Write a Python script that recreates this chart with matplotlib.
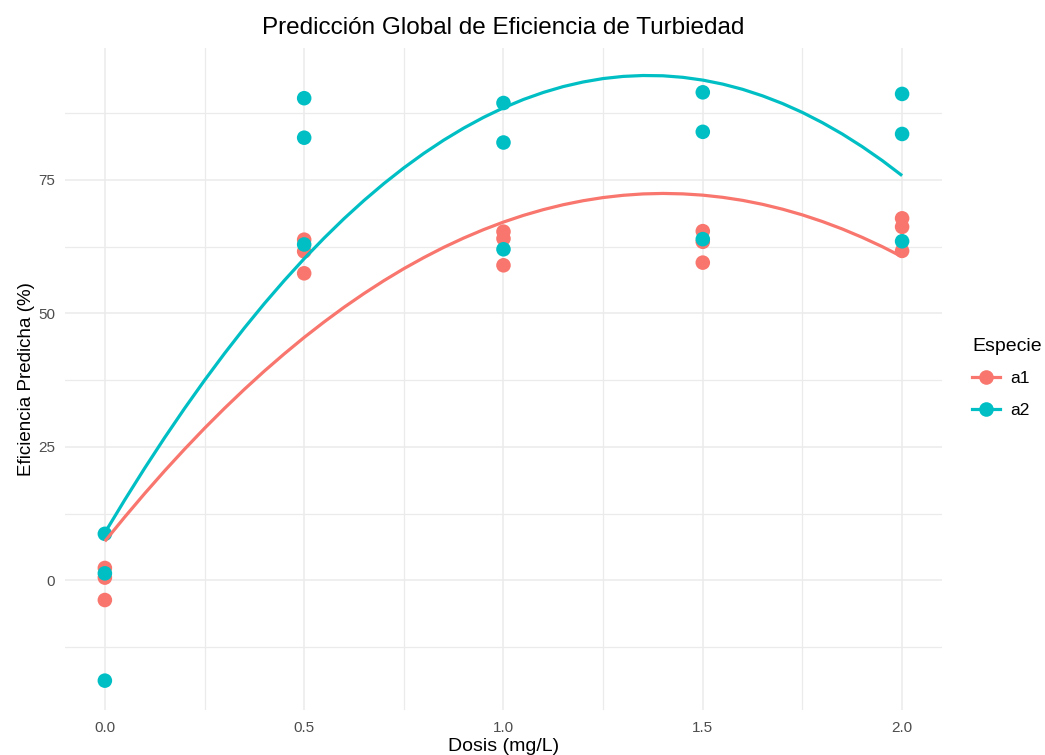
import numpy as np
import matplotlib
matplotlib.use("Agg")
import matplotlib.pyplot as plt
from matplotlib.lines import Line2D

plt.rcParams["font.family"] = ["Liberation Sans", "DejaVu Sans"]

# ----------------- Data -----------------
dosis = [0.0, 0.5, 1.0, 1.5, 2.0]

# three replicates per dose
a1_obs = [[2.3, 0.5, -3.7],
          [63.8, 61.6, 57.5],
          [65.3, 64.0, 59.0],
          [65.4, 63.4, 59.5],
          [67.8, 66.2, 61.7]]
a2_obs = [[8.7, 1.3, -18.8],
          [90.3, 82.9, 62.9],
          [89.4, 82.0, 62.0],
          [91.4, 84.0, 63.9],
          [91.1, 83.6, 63.5]]

# predicted curve, every 0.05 mg/L from 0 to 2
curve_x = np.linspace(0, 2, 41)
a1_pred = [7.30, 11.86, 16.26, 20.50, 24.56, 28.47, 32.20, 35.77, 39.18, 42.41,
           45.49, 48.39, 51.14, 53.71, 56.12, 58.37, 60.44, 62.36, 64.10, 65.68,
           67.10, 68.35, 69.43, 70.35, 71.10, 71.69, 72.11, 72.37, 72.46, 72.38,
           72.14, 71.73, 71.16, 70.42, 69.51, 68.44, 67.20, 65.80, 64.23, 62.50,
           60.60]
a2_pred = [8.90, 15.07, 21.01, 26.72, 32.20, 37.45, 42.47, 47.26, 51.82, 56.14,
           60.24, 64.10, 67.74, 71.14, 74.31, 77.25, 79.96, 82.44, 84.69, 86.71,
           88.50, 90.06, 91.38, 92.48, 93.34, 93.98, 94.38, 94.55, 94.50, 94.21,
           93.69, 92.94, 91.96, 90.74, 89.30, 87.63, 85.72, 83.59, 81.22, 78.63,
           75.80]

especies = ["a1", "a2"]
colores = {"a1": "#F8766D", "a2": "#00BFC4"}
obs = {"a1": a1_obs, "a2": a2_obs}
pred = {"a1": a1_pred, "a2": a2_pred}

# ----------------- Figure -----------------
fig = plt.figure(figsize=(10.45, 7.55), dpi=100)
ax = fig.add_axes([0.0622, 0.0596, 0.8392, 0.8768])

grid_col = "#EBEBEB"
ax.set_xlim(-0.1, 2.1)
ax.set_ylim(-24.3, 99.7)
ax.set_xticks([0.0, 0.5, 1.0, 1.5, 2.0])
ax.set_xticks([0.25, 0.75, 1.25, 1.75], minor=True)
ax.set_yticks([0, 25, 50, 75])
ax.set_yticks([-12.5, 12.5, 37.5, 62.5, 87.5], minor=True)
ax.grid(True, which="major", color=grid_col, linewidth=1.1)
ax.grid(True, which="minor", color=grid_col, linewidth=0.9)
ax.set_axisbelow(True)
for s in ax.spines.values():
    s.set_visible(False)
ax.tick_params(which="both", length=0)
ax.tick_params(axis="both", labelsize=11, labelcolor="#4D4D4D")
ax.tick_params(axis="x", pad=8)
ax.tick_params(axis="y", pad=7)

# points, then fitted lines on top
for esp in especies:
    xs = [d for d, reps in zip(dosis, obs[esp]) for _ in reps]
    ys = [v for reps in obs[esp] for v in reps]
    ax.scatter(xs, ys, s=110, color=colores[esp], edgecolors="none", zorder=3)
for esp in especies:
    ax.plot(curve_x, pred[esp], color=colores[esp], linewidth=2.3,
            solid_capstyle="butt", zorder=4)

ax.set_title("Predicción Global de Eficiencia de Turbiedad", fontsize=17.5, pad=10)
ax.set_xlabel("Dosis (mg/L)", fontsize=14, labelpad=2)
ax.set_ylabel("Eficiencia Predicha (%)", fontsize=13.5, labelpad=2)

# ----------------- Legend -----------------
handles = [Line2D([0], [0], color=colores[e], linewidth=2.3, marker="o",
                  markersize=10.5, markeredgewidth=0) for e in especies]
leg = fig.legend(handles, especies, title="Especie", loc="upper left",
                 bbox_to_anchor=(0.9155, 0.5735), frameon=False,
                 fontsize=12.5, title_fontsize=14, handlelength=1.6,
                 handletextpad=0.6, labelspacing=0.95, alignment="left")

fig.savefig("out.png", dpi=100)
